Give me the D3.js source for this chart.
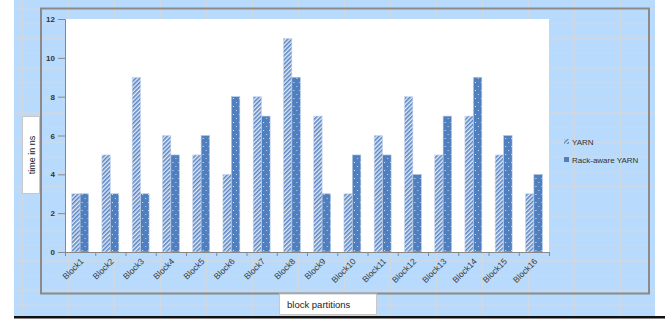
<!DOCTYPE html>
<html>
<head>
<meta charset="utf-8">
<script src="https://cdn.jsdelivr.net/npm/d3@7"></script>
<style>
  body { margin: 0; background: #fff; }
  svg { display: block; font-family: "Liberation Sans", Arial, sans-serif; }
</style>
</head>
<body>
<div id="chart"></div>
<script>
// DATA--------------------
var blocks = ["Block1", "Block2", "Block3", "Block4", "Block5", "Block6", "Block7", "Block8",
              "Block9", "Block10", "Block11", "Block12", "Block13", "Block14", "Block15", "Block16"];
var yarnValues = [3, 5, 9, 6, 5, 4, 8, 11, 7, 3, 6, 8, 5, 7, 5, 3];
var rackValues = [3, 3, 3, 5, 6, 8, 7, 9, 3, 5, 5, 4, 7, 9, 6, 4];
var seriesNames = ["YARN", "Rack-aware YARN"];
var yTicks = [0, 2, 4, 6, 8, 10, 12];

//SET BOUNDARIES--------------------
var svgWidth = 665;
var svgHeight = 321;
var plot = { left: 65, top: 19, right: 549, bottom: 252 };

var svg = d3.select("#chart").append("svg")
    .attr("width", svgWidth)
    .attr("height", svgHeight);

// patterns for the two series
var defs = svg.append("defs");
var hatch = defs.append("pattern")
    .attr("id", "hatch")
    .attr("patternUnits", "userSpaceOnUse")
    .attr("width", 3).attr("height", 3)
    .attr("patternTransform", "rotate(45)");
hatch.append("rect").attr("width", 3).attr("height", 3).attr("fill", "#e4ecf7");
hatch.append("rect").attr("width", 1.6).attr("height", 3).attr("fill", "#5b86c4");

var dots = defs.append("pattern")
    .attr("id", "dots")
    .attr("patternUnits", "userSpaceOnUse")
    .attr("width", 6).attr("height", 8);
dots.append("rect").attr("width", 6).attr("height", 8).attr("fill", "#4f7fbf");
dots.append("rect").attr("x", 4).attr("y", 2).attr("width", 1).attr("height", 1).attr("fill", "#dfe9f5");
dots.append("rect").attr("x", 1).attr("y", 6).attr("width", 1).attr("height", 1).attr("fill", "#c4d5ec");

// spreadsheet background
svg.append("rect").attr("x", 14).attr("y", 0).attr("width", 641).attr("height", 316).attr("fill", "#b8dbfd");
var colLines = d3.range(22.5, 655, 46);
var rowLines = d3.range(9, 316, 14.8);
svg.append("g").selectAll("line.col").data(colLines).enter().append("line")
    .attr("x1", d => d).attr("x2", d => d).attr("y1", 0).attr("y2", 316)
    .attr("stroke", "#d0d8e2").attr("stroke-width", 1);
svg.append("g").selectAll("line.row").data(rowLines).enter().append("line")
    .attr("x1", 14).attr("x2", 655).attr("y1", d => d).attr("y2", d => d)
    .attr("stroke", "#d0d8e2").attr("stroke-width", 1);
svg.append("rect").attr("x", 14).attr("y", 316).attr("width", 651).attr("height", 2.5).attr("fill", "#111");

// chart frame
svg.append("rect").attr("x", 41).attr("y", 8.5).attr("width", 608).attr("height", 285)
    .attr("fill", "none").attr("stroke", "#8a8a8a").attr("stroke-width", 2);

// plot area
svg.append("rect").attr("x", plot.left).attr("y", plot.top)
    .attr("width", plot.right - plot.left).attr("height", plot.bottom - plot.top)
    .attr("fill", "#fff");

// SCALES--------------------
var x0 = d3.scaleBand().domain(blocks).range([plot.left, plot.right]).paddingInner(0.44).paddingOuter(0.22);
var x1 = d3.scaleBand().domain(seriesNames).range([0, x0.bandwidth()]);
var y = d3.scaleLinear().domain([0, 12]).range([plot.bottom, plot.top]);

// bars
var groups = svg.append("g").selectAll("g").data(blocks).enter().append("g")
    .attr("transform", d => `translate(${x0(d)},0)`);
groups.append("rect")
    .attr("x", x1("YARN"))
    .attr("y", (d, i) => y(yarnValues[i]))
    .attr("width", x1.bandwidth())
    .attr("height", (d, i) => y(0) - y(yarnValues[i]))
    .attr("fill", "url(#hatch)")
    .attr("stroke", "#c9d8ee").attr("stroke-width", 0.6);
groups.append("rect")
    .attr("x", x1("Rack-aware YARN"))
    .attr("y", (d, i) => y(rackValues[i]))
    .attr("width", x1.bandwidth())
    .attr("height", (d, i) => y(0) - y(rackValues[i]))
    .attr("fill", "url(#dots)")
    .attr("stroke", "#b7cbe6").attr("stroke-width", 0.6);

// AXES--------------------
var leftAxis = d3.axisLeft(y).tickValues(yTicks).tickSize(7).tickPadding(3);
var yAxis = svg.append("g").attr("transform", `translate(${plot.left},0)`).call(leftAxis);
yAxis.select(".domain").attr("stroke", "#888");
yAxis.selectAll(".tick line").attr("stroke", "#888");
yAxis.selectAll("text").attr("font-size", 8).attr("font-weight", "bold").attr("fill", "#333");

var bottomAxis = d3.axisBottom(d3.scaleLinear().domain([0, 16]).range([plot.left, plot.right]))
    .ticks(16).tickSize(4).tickFormat("");
var xAxis = svg.append("g").attr("transform", `translate(0,${plot.bottom})`).call(bottomAxis);
xAxis.select(".domain").attr("stroke", "#888");
xAxis.selectAll(".tick line").attr("stroke", "#888");

svg.append("g").selectAll("text").data(blocks).enter().append("text")
    .attr("transform", d => `translate(${x0(d) + x0.bandwidth() / 2 + 4},${plot.bottom + 10}) rotate(-45)`)
    .attr("text-anchor", "end")
    .attr("font-size", 8.5)
    .attr("fill", "#3a3a3a")
    .text(d => d);

// axis titles
svg.append("rect").attr("x", 22.5).attr("y", 116.5).attr("width", 17).attr("height", 77)
    .attr("fill", "#fff").attr("stroke", "#c8c8c8").attr("stroke-width", 1);
svg.append("text")
    .attr("transform", "translate(35,155) rotate(-90)")
    .attr("text-anchor", "middle")
    .attr("font-size", 9).attr("fill", "#222")
    .text("time in ns");

svg.append("rect").attr("x", 279.5).attr("y", 294).attr("width", 97).attr("height", 20.5)
    .attr("fill", "#fff").attr("stroke", "#c8c8c8").attr("stroke-width", 1);
svg.append("text")
    .attr("x", 287).attr("y", 308)
    .attr("font-size", 9.5).attr("fill", "#222")
    .text("block partitions");

// LEGEND--------------------
var legend = svg.append("g").attr("transform", "translate(564,142)");
legend.selectAll("rect").data(seriesNames).enter().append("rect")
    .attr("x", 0).attr("y", (d, i) => i * 18 - 3)
    .attr("width", 5).attr("height", 5)
    .attr("fill", (d, i) => i === 0 ? "url(#hatch)" : "#4f7fbf");
legend.selectAll("text").data(seriesNames).enter().append("text")
    .attr("x", 8).attr("y", (d, i) => i * 18 + 3)
    .attr("font-size", 8).attr("fill", "#333")
    .text(d => d);
</script>
</body>
</html>
